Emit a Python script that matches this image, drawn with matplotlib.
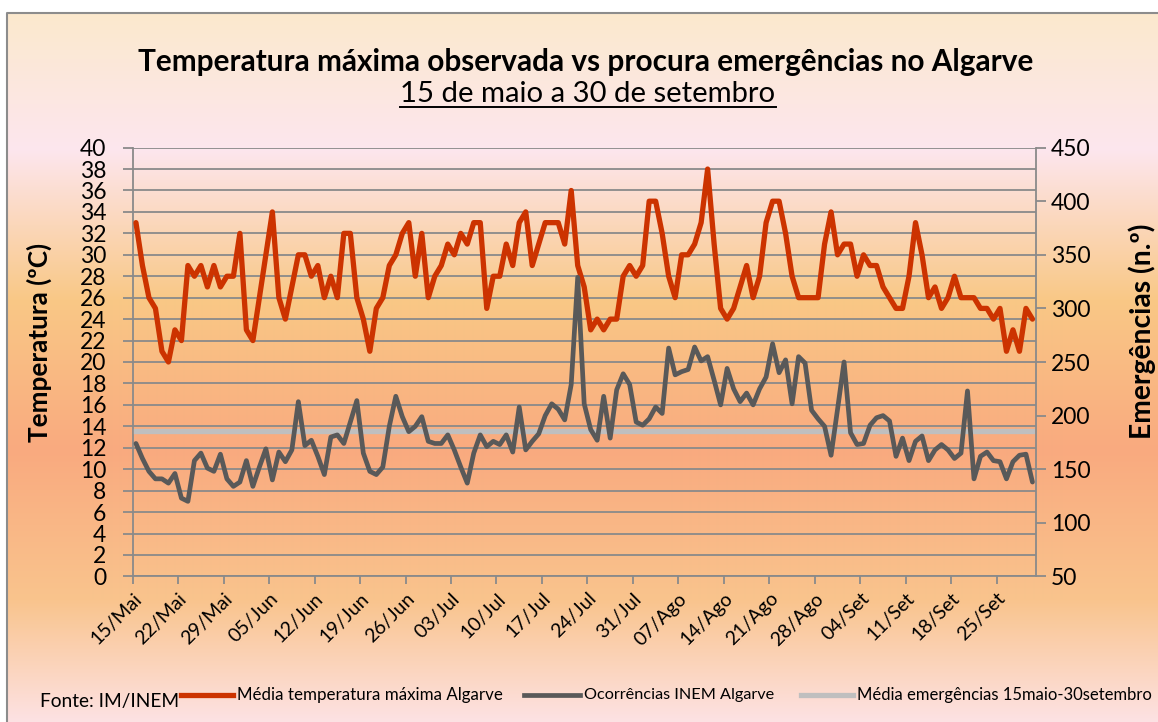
import numpy as np
import matplotlib
matplotlib.use("Agg")
import matplotlib.pyplot as plt
from matplotlib.colors import to_rgb
from matplotlib.patches import Rectangle
from matplotlib.transforms import ScaledTranslation

# ---------------- data ----------------
temp_max = [33, 29, 26, 25, 21, 20, 23, 22, 29, 28, 29, 27, 29, 27, 28, 28, 32, 23, 22, 26,
            30, 34, 26, 24, 27, 30, 30, 28, 29, 26, 28, 26, 32, 32, 26, 24, 21, 25, 26, 29,
            30, 32, 33, 28, 32, 26, 28, 29, 31, 30, 32, 31, 33, 33, 25, 28, 28, 31, 29, 33,
            34, 29, 31, 33, 33, 33, 31, 36, 29, 27, 23, 24, 23, 24, 24, 28, 29, 28, 29, 35,
            35, 32, 28, 26, 30, 30, 31, 33, 38, 31, 25, 24, 25, 27, 29, 26, 28, 33, 35, 35,
            32, 28, 26, 26, 26, 26, 31, 34, 30, 31, 31, 28, 30, 29, 29, 27, 26, 25, 25, 28,
            33, 30, 26, 27, 25, 26, 28, 26, 26, 26, 25, 25, 24, 25, 21, 23, 21, 25, 24]

ocorrencias = [174, 160, 148, 141, 141, 137, 146, 123, 120, 158, 165, 151, 148, 164, 141, 134, 138, 158, 134, 152,
               169, 140, 166, 157, 168, 213, 172, 177, 162, 145, 180, 182, 174, 194, 214, 165, 148, 145, 152, 190,
               218, 199, 185, 190, 199, 176, 174, 174, 182, 168, 152, 137, 165, 182, 171, 176, 173, 182, 166, 208,
               168, 176, 183, 200, 211, 206, 196, 229, 329, 211, 187, 177, 218, 179, 224, 239, 229, 194, 191, 197,
               208, 202, 263, 238, 241, 243, 264, 251, 255, 233, 210, 244, 225, 213, 221, 210, 225, 236, 267, 240,
               252, 211, 255, 249, 205, 197, 190, 163, 206, 250, 184, 173, 174, 191, 198, 200, 195, 162, 179, 158,
               176, 181, 158, 168, 173, 168, 160, 165, 223, 141, 162, 166, 158, 157, 141, 157, 163, 164, 138]

media_emergencias = 186

date_labels = ["15/Mai", "22/Mai", "29/Mai", "05/Jun", "12/Jun", "19/Jun", "26/Jun", "03/Jul",
               "10/Jul", "17/Jul", "24/Jul", "31/Jul", "07/Ago", "14/Ago", "21/Ago", "28/Ago",
               "04/Set", "11/Set", "18/Set", "25/Set"]

title = "Temperatura máxima observada vs procura emergências no Algarve"
subtitle = "15 de maio a 30 de setembro"
ylabel_left = "Temperatura (ºC)"
ylabel_right = "Emergências (n.º)"
legend_labels = ["Média temperatura máxima Algarve", "Ocorrências INEM Algarve",
                 "Média emergências 15maio-30setembro"]
source = "Fonte: IM/INEM"

# ---------------- style ----------------
RED = "#CC3300"
DARK = "#595959"
LIGHT = "#BFBFBF"
GRID = "#8A8A8A"

W, H = 1158, 722
plt.rcParams["font.family"] = ["Lato", "DejaVu Sans"]
fig = plt.figure(figsize=(W / 100, H / 100), dpi=100)

# background gradient (pixel coordinates, y downward)
bg = fig.add_axes([0, 0, 1, 1], zorder=-10)
stops = [13, 150, 300, 450, 600, 722]
cols = ["#FBE9CD", "#FDE6EE", "#F9C886", "#F9AA7F", "#F9C48D", "#FDE2E4"]
rgb = np.array([to_rgb(c) for c in cols])
ys = np.arange(H) + 0.5
grad = np.stack([np.interp(ys, stops, rgb[:, i]) for i in range(3)], axis=1)
img = np.repeat(grad[:, None, :], 2, axis=1)
bg.imshow(img, extent=[0, W, H, 0], aspect="auto", interpolation="bilinear")
bg.add_patch(Rectangle((0, 0), W, 12.5, color="white", lw=0))
bg.add_patch(Rectangle((0, 0), 6, H, color="white", lw=0))
bg.plot([6.5, 6.5, W + 5], [H + 5, 12.5, 12.5], color="#8C8C8C", lw=1.5)
bg.set_xlim(0, W)
bg.set_ylim(H, 0)
bg.axis("off")

# main axes
L, R, T, B = 132.7, 1035.7, 147.6, 576.4
ax = fig.add_axes([L / W, 1 - B / H, (R - L) / W, (B - T) / H])
ax.patch.set_alpha(0)
n = len(temp_max)
x = np.arange(n)
ax.set_xlim(-0.5, n - 0.5)
ax.set_ylim(0, 40)
ax.set_yticks(np.arange(0, 41, 2))
ax.yaxis.grid(True, color=GRID, lw=1.3)
ax.set_axisbelow(True)
ax.plot(x, temp_max, color=RED, lw=3.8, solid_joinstyle="round", solid_capstyle="round", zorder=3)

ax2 = ax.twinx()
ax2.set_ylim(50, 450)
ax2.set_yticks(np.arange(50, 451, 50))
ax2.plot(x, [media_emergencias] * n, color=LIGHT, lw=3.8, zorder=2)
ax2.plot(x, ocorrencias, color=DARK, lw=3.4, solid_joinstyle="round", solid_capstyle="round", zorder=3)

for a in (ax, ax2):
    for s in a.spines.values():
        s.set_color(GRID)
        s.set_linewidth(1.3)
    a.spines["top"].set_visible(False)

ax.spines["right"].set_visible(False)
ax2.spines["left"].set_visible(False)
ax2.spines["bottom"].set_visible(False)

ax.set_xticks(np.arange(0, n, 7) - 0.5)
ax.set_xticklabels(date_labels, rotation=45, ha="right", va="center", rotation_mode="anchor")
ax.tick_params(axis="x", length=6, width=1.3, color=GRID, pad=8, labelsize=14)
ax.tick_params(axis="y", length=7, width=1.3, color=GRID, pad=12, labelsize=16.5)
ax2.tick_params(axis="y", length=7, width=1.3, color=GRID, pad=4, labelsize=16.5)
offset = ScaledTranslation(6 / 100, 0, fig.dpi_scale_trans)
for lab in ax.get_xticklabels():
    lab.set_transform(lab.get_transform() + offset)

renderer = fig.canvas.get_renderer()


def fit_width(t, target):
    w = t.get_window_extent(renderer).width
    t.set_fontsize(t.get_fontsize() * target / w)


def fit_height(t, target):
    h = t.get_window_extent(renderer).height
    t.set_fontsize(t.get_fontsize() * target / h)


def px(xp, yp):
    return xp / W, 1 - yp / H


# titles
t1 = fig.text(*px(586, 70.5), title, ha="center", va="baseline", fontsize=19, fontweight="bold")
fit_width(t1, 893)
t2 = fig.text(*px(588, 102), subtitle, ha="center", va="baseline", fontsize=19)
fit_width(t2, 376)
bb = t2.get_window_extent(renderer)
uy = 1 - 106.5 / H
fig.add_artist(plt.Line2D([bb.x0 / W, bb.x1 / W], [uy, uy], color="black", lw=1.4))

# axis titles
yl = fig.text(*px(39, 342), ylabel_left, rotation=90, ha="center", va="center", fontsize=15, fontweight="bold")
fit_height(yl, 200)
yr = fig.text(*px(1142, 331), ylabel_right, rotation=90, ha="center", va="center", fontsize=15, fontweight="bold")
fit_height(yr, 216)

# legend (manual placement)
ly = 695
items = [(181, 233, RED, 3.8, legend_labels[0], 263),
         (524, 580, DARK, 3.4, legend_labels[1], 190),
         (801, 853, LIGHT, 3.8, legend_labels[2], 294)]
for x0, x1, c, lw, lab, tw in items:
    fig.add_artist(plt.Line2D([x0 / W, x1 / W], [1 - ly / H] * 2, color=c, lw=lw))
    tt = fig.text(*px(x1 + 4, ly), lab, ha="left", va="center", fontsize=12)
    fit_width(tt, tw)
fs = fig.text(*px(40, 702), source, ha="left", va="center", fontsize=12.5)
fit_width(fs, 140)

fig.savefig("out.png", dpi=100)
